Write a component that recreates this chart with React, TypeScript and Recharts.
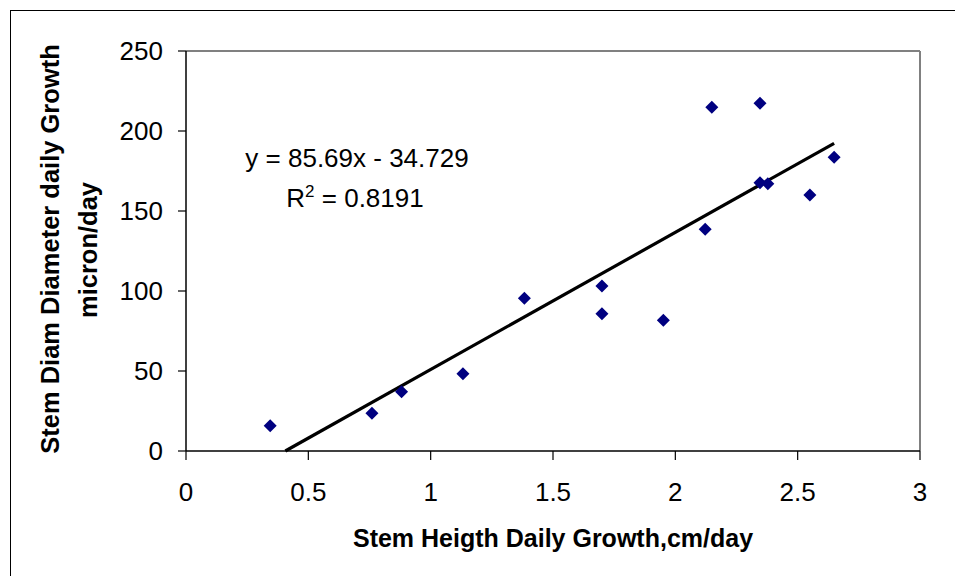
import React from "react";
import { ScatterChart, Scatter, XAxis, YAxis, ReferenceLine } from "recharts";

const xValues = [0.344, 0.76, 0.881, 1.132, 1.383, 1.7, 1.7, 1.951, 2.122, 2.149, 2.346, 2.346, 2.378, 2.55, 2.649];
const yValues = [15.8, 23.6, 37.1, 48.3, 95.4, 103.1, 85.8, 81.7, 138.6, 214.8, 217.3, 167.7, 167.1, 160, 183.6];
const xTicks = [0, 0.5, 1, 1.5, 2, 2.5, 3];
const yTicks = [0, 50, 100, 150, 200, 250];
const trendStart = { x: 0.406, y: 0 };
const trendEnd = { x: 2.649, y: 192.3 };
const equationText = "y = 85.69x - 34.729";
const r2Value = "0.8191";
const xTitle = "Stem Heigth Daily Growth,cm/day";
const yTitleLine1 = "Stem Diam Diameter daily Growth";
const yTitleLine2 = "micron/day";

const points = xValues.map((x, i) => ({ x, y: yValues[i] }));

const FONT = "'Liberation Sans', Arial, Helvetica, sans-serif";

const Diamond = (props: any) => {
  const { cx, cy } = props;
  if (cx == null || cy == null) return null;
  const r = 6.5;
  return (
    <polygon
      points={`${cx},${cy - r} ${cx + r},${cy} ${cx},${cy + r} ${cx - r},${cy}`}
      fill="#000080"
    />
  );
};

export default function App() {
  return (
    <div
      style={{
        position: "absolute",
        left: 0,
        top: 0,
        width: 955,
        height: 576,
        overflow: "hidden",
        background: "#fff",
      }}
    >
      <div
        style={{
          position: "absolute",
          left: 10,
          top: 10,
          width: 1200,
          height: 1200,
          border: "1.5px solid #000",
          boxSizing: "border-box",
        }}
      />
      <div style={{ position: "absolute", left: 0, top: 0 }}>
        <ScatterChart
          width={955}
          height={576}
          margin={{ top: 51, right: 35, bottom: 95, left: 0 }}
        >
          <XAxis
            type="number"
            dataKey="x"
            domain={[0, 3]}
            ticks={xTicks}
            interval={0}
            height={30}
            tickSize={9}
            tickMargin={23}
            tick={{ fontSize: 26, fill: "#000", fontFamily: FONT }}
            axisLine={{ stroke: "#000", strokeWidth: 1.5 }}
            tickLine={{ stroke: "#000", strokeWidth: 1.2 }}
            allowDataOverflow
          />
          <YAxis
            type="number"
            dataKey="y"
            domain={[0, 250]}
            ticks={yTicks}
            interval={0}
            width={186}
            tickSize={8}
            tickMargin={15}
            tick={{ fontSize: 26, fill: "#000", fontFamily: FONT }}
            axisLine={{ stroke: "#000", strokeWidth: 1.5 }}
            tickLine={{ stroke: "#000", strokeWidth: 1.2 }}
            allowDataOverflow
          />
          <ReferenceLine y={250} stroke="#808080" strokeWidth={2} />
          <ReferenceLine x={3} stroke="#808080" strokeWidth={2} />
          <Scatter
            data={points}
            shape={Diamond}
            isAnimationActive={false}
          />
          <ReferenceLine
            segment={[trendStart, trendEnd]}
            stroke="#000"
            strokeWidth={3.2}
          />
        </ScatterChart>
      </div>
      <svg
        width={955}
        height={576}
        style={{ position: "absolute", left: 0, top: 0, pointerEvents: "none" }}
      >
        <text
          x={357}
          y={167}
          textAnchor="middle"
          fontFamily={FONT}
          fontSize={26}
          fill="#000"
        >
          {equationText}
        </text>
        <text
          x={355}
          y={207}
          textAnchor="middle"
          fontFamily={FONT}
          fontSize={26}
          fill="#000"
        >
          R
          <tspan dy={-10} fontSize={17}>2</tspan>
          <tspan dy={10}>{" = " + r2Value}</tspan>
        </text>
        <text
          x={553}
          y={547}
          textAnchor="middle"
          fontFamily={FONT}
          fontSize={25}
          fontWeight="bold"
          fill="#000"
        >
          {xTitle}
        </text>
        <text
          x={59}
          y={249}
          textAnchor="middle"
          fontFamily={FONT}
          fontSize={25.5}
          fontWeight="bold"
          fill="#000"
          transform="rotate(-90, 59, 249)"
        >
          {yTitleLine1}
        </text>
        <text
          x={97}
          y={250}
          textAnchor="middle"
          fontFamily={FONT}
          fontSize={25.5}
          fontWeight="bold"
          fill="#000"
          transform="rotate(-90, 97, 250)"
        >
          {yTitleLine2}
        </text>
      </svg>
    </div>
  );
}
